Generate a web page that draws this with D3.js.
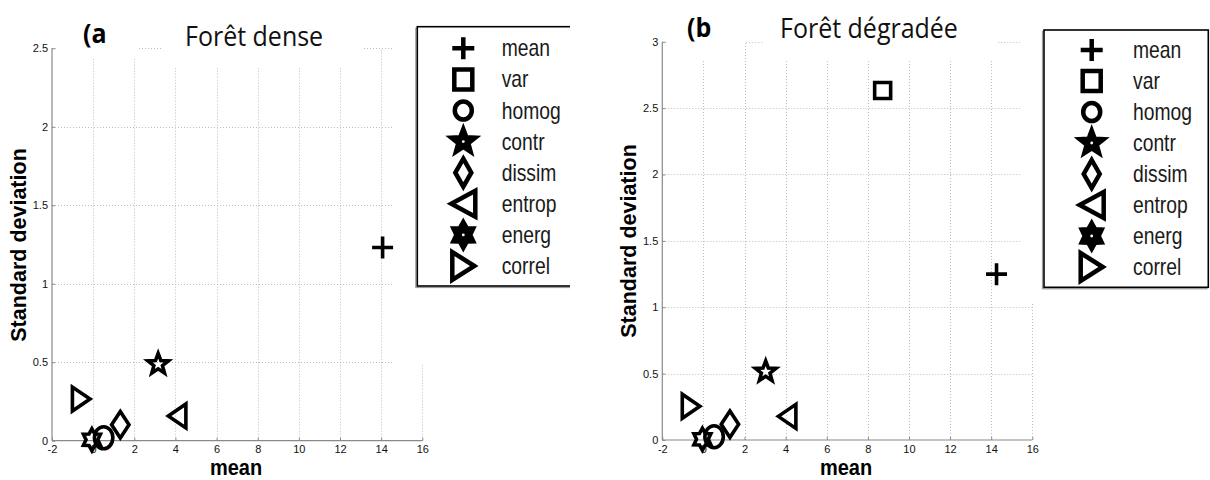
<!DOCTYPE html>
<html><head><meta charset="utf-8">
<script src="https://cdn.jsdelivr.net/npm/d3@7"></script>
<style>html,body{margin:0;padding:0;background:#fff;}svg{display:block;}</style>
</head><body>
<svg id="chart" width="1210" height="480"></svg>
<script>
// ---- data ----
const categories = ["mean", "var", "homog", "contr", "dissim", "entrop", "energ", "correl"];
const denseMean = [14.07, null, 0.51, 3.16, 1.32, 4.08, -0.06, -0.58];
const denseStd  = [1.231, null, 0.019, 0.487, 0.102, 0.158, 0.006, 0.265];
const degrMean  = [14.26, 8.72, 0.52, 3.03, 1.29, 4.07, -0.05, -0.60];
const degrStd   = [1.249, 2.633, 0.025, 0.514, 0.119, 0.178, 0.006, 0.254];
const xTicks = [-2, 0, 2, 4, 6, 8, 10, 12, 14, 16];
const yTicksA = [0, 0.5, 1, 1.5, 2, 2.5];
const yTicksB = [0, 0.5, 1, 1.5, 2, 2.5, 3];
const panelLetters = ["(a", "(b"];
const panelTitles = ["Forêt dense", "Forêt dégradée"];
const xLabel = "mean";
const yLabel = "Standard deviation";

// ---- marker shapes ----
function starPts(n, R, rIn, sx, sy) {
  const p = [];
  for (let i = 0; i < 2 * n; i++) {
    const a = -Math.PI / 2 + i * Math.PI / n;
    const r = i % 2 === 0 ? R : rIn;
    p.push([Math.cos(a) * r * sx, Math.sin(a) * r * sy]);
  }
  return "M" + p.map(d => d[0].toFixed(2) + "," + d[1].toFixed(2)).join("L") + "Z";
}
function markerPath(name, big) {
  const k = big ? 1 : 0;
  switch (name) {
    case "mean": { const w = [10.5, 11][k], h = [11, 11][k]; return `M${-w},0H${w}M0,${-h}V${h}`; }
    case "var": { const w = [8, 9][k], h = [8, 10][k]; return `M${-w},${-h}H${w}V${h}H${-w}Z`; }
    case "homog": { const w = [9.2, 8.5][k], h = [11, 9][k]; return `M${-w},0A${w},${h} 0 1 0 ${w},0A${w},${h} 0 1 0 ${-w},0Z`; }
    case "contr": { const R = [10.8, 12.5][k]; return starPts(5, R, R * 0.42, 1, 1); }
    case "dissim": { const w = [8.7, 8][k], h = [13.2, 14][k]; return `M0,${-h}L${w},0L0,${h}L${-w},0Z`; }
    case "entrop": { const w = [8.8, 12][k], h = [12, 13][k]; return `M${-w},0L${w},${-h}L${w},${h}Z`; }
    case "energ": { const R = [9.8, 11.5][k]; return starPts(6, R, R * 0.6, 1, 1.12); }
    case "correl": { const w = [8.8, 11][k], h = [12, 14][k]; return `M${w},0L${-w},${-h}L${-w},${h}Z`; }
  }
}
const solidLegend = { contr: true, energ: true };

const svg = d3.select("#chart");
const fontTick = "Liberation Sans, Arial, sans-serif";

const panels = [
  { xr: [52, 422.3], yr: [440.7, 48.3], yDom: [0, 2.5], yTicks: yTicksA, mx: denseMean, sy: denseStd,
    masks: [[57, 0, 81, 59], [163, 0, 200, 68], [393, 0, 40, 365]],
    legend: { x: 417.3, y: 26.7, w: 170, h: 259.3, mx: 463.3, tx: 501.7, y0: 48.3, dy: 31.1 },
    letter: { x: 83, y: 43 }, title: { x: 185, y: 46 }, yl: { x: 26, y: 245 }, xl: { x: 236, y: 475 } },
  { xr: [662.3, 1032.3], yr: [440, 41.7], yDom: [0, 3], yTicks: yTicksB, mx: degrMean, sy: degrStd,
    masks: [[667, 0, 78, 61], [763, 0, 235, 61], [1020, 0, 30, 303]],
    legend: { x: 1044, y: 30, w: 164.3, h: 257.3, mx: 1091.7, tx: 1133, y0: 50, dy: 31 },
    letter: { x: 687, y: 37 }, title: { x: 780, y: 38 }, yl: { x: 636, y: 241 }, xl: { x: 846, y: 475 } }
];

panels.forEach((P, pi) => {
  const g = svg.append("g");
  const x = d3.scaleLinear().domain([-2, 16]).range(P.xr);
  const y = d3.scaleLinear().domain(P.yDom).range(P.yr);

  // grid
  const grid = g.append("g").attr("stroke", "#bdbdbd").attr("stroke-width", 1).attr("stroke-dasharray", "1,2");
  grid.selectAll(".gx").data(xTicks.slice(1)).join("line")
    .attr("x1", d => Math.round(x(d)) + 0.5).attr("x2", d => Math.round(x(d)) + 0.5)
    .attr("y1", P.yr[0]).attr("y2", P.yr[1]);
  grid.selectAll(".gy").data(P.yTicks.slice(1)).join("line")
    .attr("x1", P.xr[0]).attr("x2", P.xr[1])
    .attr("y1", d => Math.round(y(d)) + 0.5).attr("y2", d => Math.round(y(d)) + 0.5);

  // white masks (title / legend areas hide parts of the grid)
  g.selectAll(".mask").data(P.masks).join("rect")
    .attr("x", d => d[0]).attr("y", d => d[1]).attr("width", d => d[2]).attr("height", d => d[3])
    .attr("fill", "#fff");

  // axes
  const xAxis = d3.axisBottom(x).tickValues(xTicks).tickSize(-3).tickPadding(5).tickFormat(d => String(d));
  const yAxis = d3.axisLeft(y).tickValues(P.yTicks).tickSize(-3).tickPadding(4).tickFormat(d => String(d));
  const ax = g.append("g").attr("transform", `translate(0,${P.yr[0]})`).call(xAxis);
  const ay = g.append("g").attr("transform", `translate(${P.xr[0]},0)`).call(yAxis);
  [ax, ay].forEach(a => {
    a.select(".domain").attr("stroke", "#8a8a8a").attr("stroke-width", 1.2);
    a.selectAll(".tick line").attr("stroke", "#8a8a8a");
    a.selectAll(".tick text").attr("fill", "#111").attr("font-family", fontTick).attr("font-size", 11);
  });
  ay.select(".domain").attr("d", `M0,${P.yr[0]}V${P.yr[1]}`);
  ax.select(".domain").attr("d", `M${P.xr[0]},0H${P.xr[1]}`);

  // markers
  const pts = categories.map((c, i) => ({ c, mx: P.mx[i], sd: P.sy[i] })).filter(d => d.mx !== null);
  g.append("g").selectAll("path").data(pts).join("path")
    .attr("transform", d => `translate(${x(d.mx)},${y(d.sd)})`)
    .attr("d", d => markerPath(d.c, false))
    .attr("fill", "none").attr("stroke", "#000").attr("stroke-width", 3.6).attr("stroke-linejoin", "miter");

  // legend
  const L = P.legend;
  const lg = g.append("g");
  lg.append("rect").attr("x", L.x - 1.5).attr("y", L.y + 1.5).attr("width", L.w).attr("height", L.h)
    .attr("fill", "none").attr("stroke", "#9a9a9a").attr("stroke-width", 1.2);
  lg.append("rect").attr("x", L.x).attr("y", L.y).attr("width", L.w).attr("height", L.h)
    .attr("fill", "#fff").attr("stroke", "#000").attr("stroke-width", 1.6);
  const items = lg.selectAll(".item").data(categories).join("g")
    .attr("transform", (d, i) => `translate(0,${L.y0 + i * L.dy})`);
  items.append("path").attr("transform", `translate(${L.mx},0)`)
    .attr("d", d => markerPath(d, true))
    .attr("fill", d => solidLegend[d] ? "#000" : "none")
    .attr("stroke", "#000").attr("stroke-width", 4.5);
  items.filter(d => solidLegend[d]).append("circle")
    .attr("cx", L.mx).attr("cy", 0).attr("r", 1.4).attr("fill", "#fff");
  items.append("text").attr("transform", `translate(${L.tx},0) scale(0.84,1)`)
    .attr("dy", "0.35em")
    .attr("font-family", "Liberation Sans, Arial, sans-serif")
    .attr("font-size", 23).attr("fill", "#1a1a1a").text(d => d);

  // titles and labels
  g.append("text").attr("transform", `translate(${P.letter.x},${P.letter.y}) scale(1,1.1)`)
    .attr("font-family", "Open Sans, sans-serif").attr("font-weight", "bold").attr("font-size", 25)
    .attr("fill", "#000").text(panelLetters[pi]);
  g.append("text").attr("transform", `translate(${P.title.x},${P.title.y}) scale(1,1.1)`)
    .attr("font-family", "Open Sans, sans-serif").attr("font-size", 25)
    .attr("fill", "#111").text(panelTitles[pi]);
  g.append("text").attr("transform", `translate(${P.yl.x},${P.yl.y}) rotate(-90)`)
    .attr("text-anchor", "middle").attr("font-family", "Liberation Sans, Arial, sans-serif")
    .attr("font-weight", "bold").attr("font-size", 21.5).attr("fill", "#000").text(yLabel);
  g.append("text").attr("transform", `translate(${P.xl.x},${P.xl.y}) scale(1,1.1)`)
    .attr("text-anchor", "middle")
    .attr("font-family", "Liberation Sans, Arial, sans-serif")
    .attr("font-weight", "bold").attr("font-size", 20).attr("fill", "#000").text(xLabel);
});

// gap between the two cropped panels
svg.append("rect").attr("x", 570).attr("y", 0).attr("width", 30).attr("height", 300).attr("fill", "#fff");
</script>
</body></html>
